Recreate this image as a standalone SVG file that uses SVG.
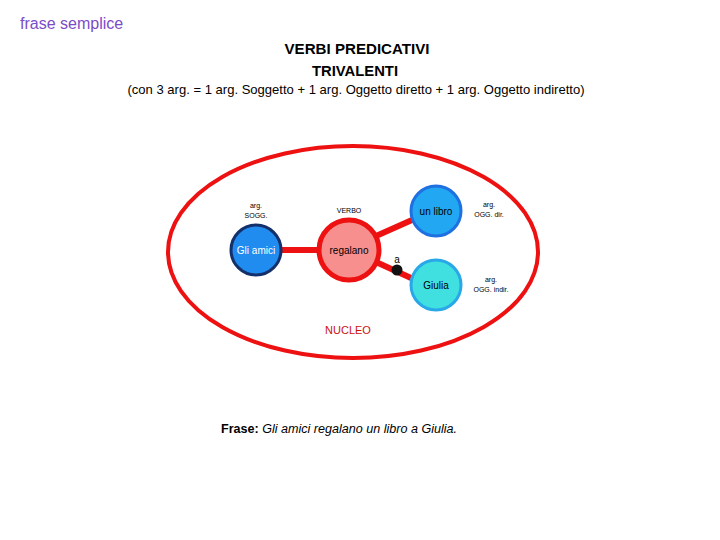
<svg xmlns="http://www.w3.org/2000/svg" width="720" height="540" viewBox="0 0 720 540">
<style>
.t{font-family:"Liberation Sans",Arial,sans-serif;fill:#000}
.s{font-size:7px;text-anchor:middle}
.n{font-size:10px;text-anchor:middle}
.c{stroke:#ee1111;stroke-width:6;fill:none}
</style>
<rect width="720" height="540" fill="#fff"/>
<text class="t" x="20" y="29" font-size="16" fill="#7b4cc8" style="fill:#7b4cc8">frase semplice</text>
<text class="t" x="357" y="54" font-size="14" font-weight="bold" text-anchor="middle" textLength="145" lengthAdjust="spacingAndGlyphs">VERBI PREDICATIVI</text>
<text class="t" x="355" y="76" font-size="14" font-weight="bold" text-anchor="middle" textLength="86" lengthAdjust="spacingAndGlyphs">TRIVALENTI</text>
<text class="t" x="356" y="94" font-size="13" text-anchor="middle" textLength="457" lengthAdjust="spacingAndGlyphs">(con 3 arg. = 1 arg. Soggetto + 1 arg. Oggetto diretto + 1 arg. Oggetto indiretto)</text>
<ellipse cx="353" cy="252" rx="185" ry="106" fill="none" stroke="#ee1111" stroke-width="4"/>
<g id="connectors">
<line class="c" x1="280" y1="250" x2="320" y2="250"/>
<line class="c" x1="376" y1="236" x2="412" y2="220"/>
<line class="c" x1="376" y1="262" x2="411" y2="278"/>
<circle cx="397" cy="270" r="5.5" fill="#111"/>
<text class="t n" x="397" y="263" font-size="9">a</text>
</g>
<g id="gli-amici">
<circle cx="256" cy="250" r="25" fill="#218cf0" stroke="#14306b" stroke-width="3"/>
<text class="t n" x="256" y="254" style="fill:#fff">Gli amici</text>
<text class="t s" x="256" y="208">arg.</text>
<text class="t s" x="256" y="218">SOGG.</text>
</g>
<g id="regalano">
<circle cx="349" cy="250" r="30" fill="#f78f8f" stroke="#ee1111" stroke-width="5"/>
<text class="t n" x="349" y="254">regalano</text>
<text class="t s" x="349" y="213">VERBO</text>
</g>
<g id="un-libro">
<circle cx="436" cy="211" r="25" fill="#22a8f2" stroke="#1f70e0" stroke-width="3"/>
<text class="t n" x="436" y="215">un libro</text>
<text class="t s" x="489" y="207">arg.</text>
<text class="t s" x="489" y="217">OGG. dir.</text>
</g>
<g id="giulia">
<circle cx="436" cy="285" r="25" fill="#3fe0df" stroke="#28a8e8" stroke-width="3"/>
<text class="t n" x="436" y="289">Giulia</text>
<text class="t s" x="491" y="282">arg.</text>
<text class="t s" x="491" y="292">OGG. indir.</text>
</g>
<text class="t" x="348" y="334" font-size="11" text-anchor="middle" style="fill:#cc1111">NUCLEO</text>
<text class="t" x="221" y="433" font-size="12" textLength="236" lengthAdjust="spacingAndGlyphs"><tspan font-weight="bold">Frase: </tspan><tspan font-style="italic">Gli amici regalano un libro a Giulia.</tspan></text>
</svg>
